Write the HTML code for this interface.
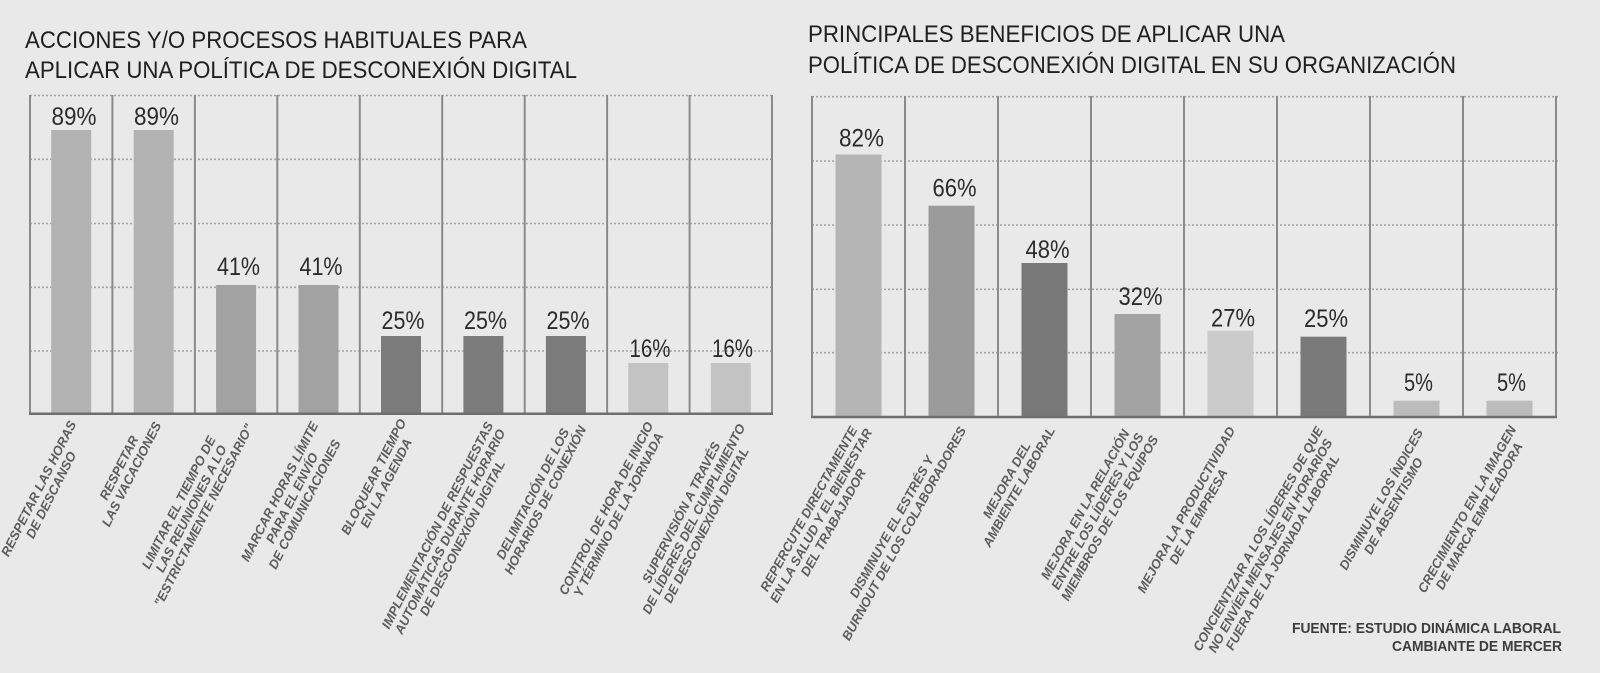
<!DOCTYPE html>
<html>
<head>
<meta charset="utf-8">
<style>
  html,body{margin:0;padding:0;}
  body{width:1600px;height:673px;background:#e9e9e9;position:relative;overflow:hidden;font-family:"Liberation Sans",sans-serif;}
  svg{position:absolute;left:0;top:0;}
  .lab{position:absolute;width:0;height:0;transform-origin:0 0;}
  .lab .in{position:absolute;right:0;white-space:nowrap;text-align:center;font-family:"Liberation Sans",sans-serif;font-style:italic;font-weight:bold;font-size:13px;line-height:14px;color:#5c5c5c;}
  .l{transform:rotate(-63deg);}
  .r{transform:rotate(-61deg);}
</style>
</head>
<body>
<svg width="1600" height="673" viewBox="0 0 1600 673" xmlns="http://www.w3.org/2000/svg">
  <!-- Titles -->
  <g font-family="Liberation Sans, sans-serif" font-size="24" fill="#1f1f1f">
    <text x="25" y="48" textLength="502" lengthAdjust="spacingAndGlyphs">ACCIONES Y/O PROCESOS HABITUALES PARA</text>
    <text x="25" y="78" textLength="552" lengthAdjust="spacingAndGlyphs">APLICAR UNA POLÍTICA DE DESCONEXIÓN DIGITAL</text>
    <text x="808" y="42" textLength="477" lengthAdjust="spacingAndGlyphs">PRINCIPALES BENEFICIOS DE APLICAR UNA</text>
    <text x="808" y="73" textLength="648" lengthAdjust="spacingAndGlyphs">POLÍTICA DE DESCONEXIÓN DIGITAL EN SU ORGANIZACIÓN</text>
  </g>

  <!-- LEFT CHART grid -->
  <g stroke="#a3a3a3" stroke-width="1.6" stroke-dasharray="2 2" fill="none">
    <line x1="30" y1="95.5" x2="774" y2="95.5"/>
    <line x1="30" y1="159.3" x2="774" y2="159.3"/>
    <line x1="30" y1="223.5" x2="774" y2="223.5"/>
    <line x1="30" y1="287.3" x2="774" y2="287.3"/>
    <line x1="30" y1="351" x2="774" y2="351"/>
  </g>
  <g stroke="#8a8a8a" stroke-width="2">
    <line x1="30" y1="95" x2="30" y2="414"/>
    <line x1="112.4" y1="95" x2="112.4" y2="414"/>
    <line x1="194.9" y1="95" x2="194.9" y2="414"/>
    <line x1="277.3" y1="95" x2="277.3" y2="414"/>
    <line x1="359.8" y1="95" x2="359.8" y2="414"/>
    <line x1="442.2" y1="95" x2="442.2" y2="414"/>
    <line x1="524.7" y1="95" x2="524.7" y2="414"/>
    <line x1="607.1" y1="95" x2="607.1" y2="414"/>
    <line x1="689.6" y1="95" x2="689.6" y2="414"/>
    <line x1="772" y1="95" x2="772" y2="414"/>
  </g>
  <!-- left bars -->
  <rect x="51.2" y="130" width="40" height="283.5" fill="#b3b3b3"/>
  <rect x="133.7" y="130" width="40" height="283.5" fill="#b3b3b3"/>
  <rect x="216.1" y="285" width="40" height="128.5" fill="#a2a2a2"/>
  <rect x="298.5" y="285" width="40" height="128.5" fill="#a2a2a2"/>
  <rect x="381" y="336" width="40" height="77.5" fill="#7b7b7b"/>
  <rect x="463.4" y="336" width="40" height="77.5" fill="#7b7b7b"/>
  <rect x="545.9" y="336" width="40" height="77.5" fill="#7b7b7b"/>
  <rect x="628.3" y="363" width="40" height="50.5" fill="#c3c3c3"/>
  <rect x="710.8" y="363" width="40" height="50.5" fill="#c3c3c3"/>
  <line x1="29" y1="413.8" x2="773" y2="413.8" stroke="#6e6e6e" stroke-width="2.5"/>

  <!-- left values -->
  <g font-family="Liberation Sans, sans-serif" font-size="25" fill="#2b2b2b" text-anchor="middle">
    <text x="74" y="125" textLength="45" lengthAdjust="spacingAndGlyphs">89%</text>
    <text x="156.5" y="125" textLength="45" lengthAdjust="spacingAndGlyphs">89%</text>
    <text x="238.5" y="275" textLength="43" lengthAdjust="spacingAndGlyphs">41%</text>
    <text x="321" y="275" textLength="43" lengthAdjust="spacingAndGlyphs">41%</text>
    <text x="403" y="329" textLength="43" lengthAdjust="spacingAndGlyphs">25%</text>
    <text x="485.5" y="329" textLength="43" lengthAdjust="spacingAndGlyphs">25%</text>
    <text x="568" y="329" textLength="43" lengthAdjust="spacingAndGlyphs">25%</text>
    <text x="650" y="357" textLength="41" lengthAdjust="spacingAndGlyphs">16%</text>
    <text x="732.5" y="357" textLength="41" lengthAdjust="spacingAndGlyphs">16%</text>
  </g>

  <!-- RIGHT CHART grid -->
  <g stroke="#a3a3a3" stroke-width="1.6" stroke-dasharray="2 2" fill="none">
    <line x1="812" y1="96.7" x2="1558" y2="96.7"/>
    <line x1="812" y1="161" x2="1558" y2="161"/>
    <line x1="812" y1="225" x2="1558" y2="225"/>
    <line x1="812" y1="289.3" x2="1558" y2="289.3"/>
    <line x1="812" y1="352.7" x2="1558" y2="352.7"/>
  </g>
  <g stroke="#8a8a8a" stroke-width="2">
    <line x1="812" y1="96" x2="812" y2="417"/>
    <line x1="905" y1="96" x2="905" y2="417"/>
    <line x1="998" y1="96" x2="998" y2="417"/>
    <line x1="1091" y1="96" x2="1091" y2="417"/>
    <line x1="1184" y1="96" x2="1184" y2="417"/>
    <line x1="1277" y1="96" x2="1277" y2="417"/>
    <line x1="1370" y1="96" x2="1370" y2="417"/>
    <line x1="1463" y1="96" x2="1463" y2="417"/>
    <line x1="1556" y1="96" x2="1556" y2="417"/>
  </g>
  <!-- right bars -->
  <rect x="835.5" y="154.5" width="46" height="262.2" fill="#b5b5b5"/>
  <rect x="928.5" y="205.7" width="46" height="211" fill="#9b9b9b"/>
  <rect x="1021.5" y="263" width="46" height="153.7" fill="#787878"/>
  <rect x="1114.5" y="314" width="46" height="102.7" fill="#a3a3a3"/>
  <rect x="1207.5" y="330.7" width="46" height="86" fill="#cbcbcb"/>
  <rect x="1300.5" y="336.7" width="46" height="80" fill="#7a7a7a"/>
  <rect x="1393.5" y="400.7" width="46" height="16" fill="#bcbcbc"/>
  <rect x="1486.5" y="400.7" width="46" height="16" fill="#bcbcbc"/>
  <line x1="811" y1="417" x2="1557" y2="417" stroke="#6e6e6e" stroke-width="2.5"/>

  <!-- right values -->
  <g font-family="Liberation Sans, sans-serif" font-size="25" fill="#2b2b2b" text-anchor="middle">
    <text x="861.5" y="146.7" textLength="45" lengthAdjust="spacingAndGlyphs">82%</text>
    <text x="954.5" y="196.7" textLength="44" lengthAdjust="spacingAndGlyphs">66%</text>
    <text x="1047.5" y="258" textLength="44" lengthAdjust="spacingAndGlyphs">48%</text>
    <text x="1140.5" y="305" textLength="44" lengthAdjust="spacingAndGlyphs">32%</text>
    <text x="1233" y="326.7" textLength="44" lengthAdjust="spacingAndGlyphs">27%</text>
    <text x="1326" y="327" textLength="44" lengthAdjust="spacingAndGlyphs">25%</text>
    <text x="1418.5" y="391" textLength="29" lengthAdjust="spacingAndGlyphs">5%</text>
    <text x="1511.5" y="391" textLength="29" lengthAdjust="spacingAndGlyphs">5%</text>
  </g>

  <!-- footer -->
  <g font-family="Liberation Sans, sans-serif" font-size="15" font-weight="bold" fill="#3c3c3c">
    <text x="1292" y="633" textLength="269" lengthAdjust="spacingAndGlyphs">FUENTE: ESTUDIO DINÁMICA LABORAL</text>
    <text x="1392" y="651" textLength="170" lengthAdjust="spacingAndGlyphs">CAMBIANTE DE MERCER</text>
  </g>
</svg>

<!-- LEFT category labels -->
<div class="lab l" style="left:73px;top:422px"><div class="in" style="top:-7px">RESPETAR LAS HORAS<br>DE DESCANSO</div></div>
<div class="lab l" style="left:158px;top:423px"><div class="in" style="top:-21px">RESPETAR<br>LAS VACACIONES</div></div>
<div class="lab l" style="left:250px;top:425px"><div class="in" style="top:-35px">LIMITAR EL TIEMPO DE<br>LAS REUNIONES A LO<br>"ESTRICTAMENTE NECESARIO"</div></div>
<div class="lab l" style="left:315px;top:423px"><div class="in" style="top:-7px">MARCAR HORAS LÍMITE<br>PARA EL ENVÍO<br>DE COMUNICACIONES</div></div>
<div class="lab l" style="left:403px;top:420px"><div class="in" style="top:-7px">BLOQUEAR TIEMPO<br>EN LA AGENDA</div></div>
<div class="lab l" style="left:490px;top:423px"><div class="in" style="top:-7px">IMPLEMENTACIÓN DE RESPUESTAS<br>AUTOMÁTICAS DURANTE HORARIO<br>DE DESCONEXIÓN DIGITAL</div></div>
<div class="lab l" style="left:583px;top:427px"><div class="in" style="top:-21px">DELIMITACIÓN DE LOS<br>HORARIOS DE CONEXIÓN</div></div>
<div class="lab l" style="left:650px;top:423px"><div class="in" style="top:-7px">CONTROL DE HORA DE INICIO<br>Y TÉRMINO DE LA JORNADA</div></div>
<div class="lab l" style="left:742px;top:425px"><div class="in" style="top:-21px">SUPERVISIÓN A TRAVÉS<br>DE LÍDERES DEL CUMPLIMIENTO<br>DE DESCONEXIÓN DIGITAL</div></div>

<!-- RIGHT category labels -->
<div class="lab r" style="left:869px;top:430px"><div class="in" style="top:-21px">REPERCUTE DIRECTAMENTE<br>EN LA SALUD Y EL BIENESTAR<br>DEL TRABAJADOR</div></div>
<div class="lab r" style="left:963px;top:428px"><div class="in" style="top:-21px">DISMINUYE EL ESTRÉS Y<br>BURNOUT DE LOS COLABORADORES</div></div>
<div class="lab r" style="left:1052px;top:428px"><div class="in" style="top:-21px">MEJORA DEL<br>AMBIENTE LABORAL</div></div>
<div class="lab r" style="left:1143px;top:430px"><div class="in" style="top:-21px">MEJORA EN LA RELACIÓN<br>ENTRE LOS LÍDERES Y LOS<br>MIEMBROS DE LOS EQUIPOS</div></div>
<div class="lab r" style="left:1232px;top:428px"><div class="in" style="top:-7px">MEJORA LA PRODUCTIVIDAD<br>DE LA EMPRESA</div></div>
<div class="lab r" style="left:1320px;top:428px"><div class="in" style="top:-7px">CONCIENTIZAR A LOS LÍDERES DE QUE<br>NO ENVÍEN MENSAJES EN HORARIOS<br>FUERA DE LA JORNADA LABORAL</div></div>
<div class="lab r" style="left:1420px;top:430px"><div class="in" style="top:-7px">DISMINUYE LOS ÍNDICES<br>DE ABSENTISMO</div></div>
<div class="lab r" style="left:1513px;top:427px"><div class="in" style="top:-7px">CRECIMIENTO EN LA IMAGEN<br>DE MARCA EMPLEADORA</div></div>
</body>
</html>
